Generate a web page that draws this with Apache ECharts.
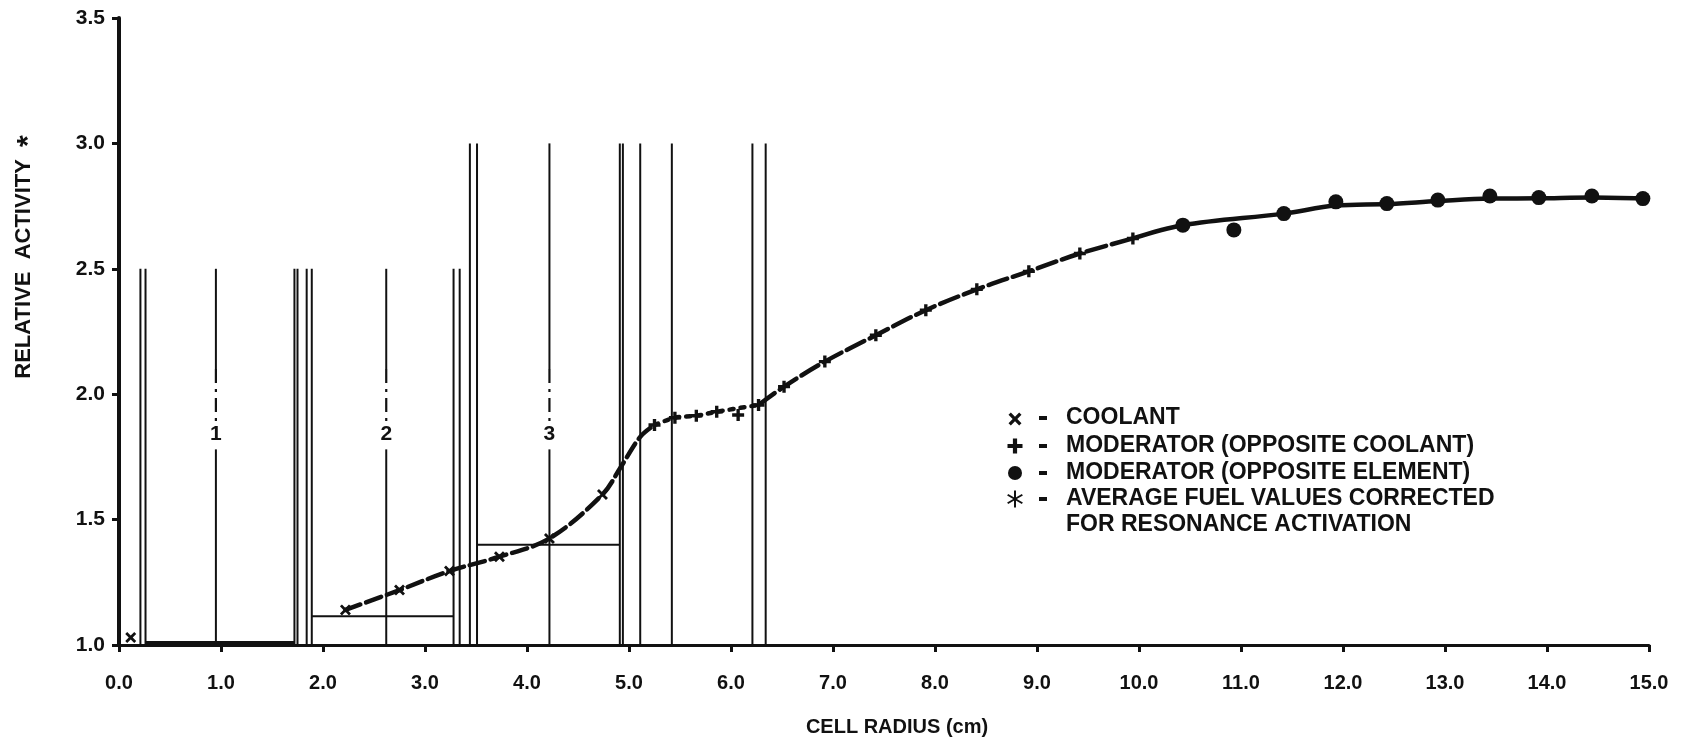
<!DOCTYPE html>
<html><head><meta charset="utf-8">
<script src="https://cdn.jsdelivr.net/npm/echarts@6/dist/echarts.min.js"></script>
<style>html,body{margin:0;padding:0;background:#fff}#c{width:1684px;height:744px}</style>
</head><body><div id="c"></div>
<script>
// ---- tick labels ----
const xTickLabels = ['0.0','1.0','2.0','3.0','4.0','5.0','6.0','7.0','8.0','9.0','10.0','11.0','12.0','13.0','14.0','15.0'];
const yTickLabels = ['1.0','1.5','2.0','2.5','3.0','3.5'];

// ---- measured points ----
const coolantX = [0.115, 2.22, 2.75, 3.24, 3.73, 4.22, 4.74];
const coolantY = [1.03, 1.14, 1.219, 1.295, 1.352, 1.425, 1.60];
const modCoolX = [5.25, 5.45, 5.66, 5.86, 6.07, 6.27, 6.52, 6.92, 7.42, 7.91, 8.41, 8.92, 9.42, 9.94];
const modCoolY = [1.877, 1.906, 1.914, 1.93, 1.917, 1.957, 2.03, 2.13, 2.235, 2.335, 2.418, 2.49, 2.561, 2.621];
const modElemX = [10.43, 10.93, 11.42, 11.93, 12.43, 12.93, 13.44, 13.92, 14.44, 14.94];
const modElemY = [2.674, 2.655, 2.72, 2.767, 2.76, 2.774, 2.79, 2.784, 2.79, 2.78];

// ---- drawn fitted curve ----
const curveX = [2.22, 2.75, 3.24, 3.73, 4.22, 4.74, 4.92, 5.11, 5.25, 5.45, 5.66, 5.86, 6.27, 6.52, 6.92, 7.42, 7.91, 8.41, 8.92, 9.42, 9.94, 10.43, 11.42, 11.93, 12.43, 12.93, 13.44, 13.92, 14.44, 14.94];
const curveY = [1.14, 1.219, 1.295, 1.352, 1.425, 1.60, 1.71, 1.83, 1.877, 1.906, 1.914, 1.93, 1.957, 2.03, 2.13, 2.235, 2.335, 2.418, 2.49, 2.561, 2.621, 2.674, 2.72, 2.752, 2.758, 2.77, 2.78, 2.781, 2.784, 2.78];

// ---- fuel element geometry lines ----
const claddingX = [0.21, 0.26, 1.72, 1.75, 1.84, 1.89, 3.28, 3.34, 3.44, 3.51, 4.91, 4.94, 5.11, 5.42, 6.21, 6.34];
const claddingTop = [2.5, 2.5, 2.5, 2.5, 2.5, 2.5, 2.5, 2.5, 3.0, 3.0, 3.0, 3.0, 3.0, 3.0, 3.0, 3.0];
const centerX = [0.95, 2.62, 4.22];
const centerTop = [2.5, 2.5, 3.0];
const ringNames = ['1', '2', '3'];
const ringLabelY = [1.84, 1.84, 1.84];
const avgStart = [0.26, 1.89, 3.51];
const avgEnd = [1.72, 3.28, 4.91];
const avgValue = [1.01, 1.115, 1.40];

const legendItems = ['COOLANT', 'MODERATOR (OPPOSITE COOLANT)', 'MODERATOR (OPPOSITE ELEMENT)', 'AVERAGE FUEL VALUES CORRECTED', 'FOR RESONANCE ACTIVATION'];

const INK = '#111';
const FONT = '"Liberation Sans", Arial, sans-serif';
const xPoly = [[1.8,0],[5,3.2],[8.2,0],[10,1.8],[6.8,5],[10,8.2],[8.2,10],[5,6.8],[1.8,10],[0,8.2],[3.2,5],[0,1.8]];
const plusPoly = [[3.6,0],[6.4,0],[6.4,3.6],[10,3.6],[10,6.4],[6.4,6.4],[6.4,10],[3.6,10],[3.6,6.4],[0,6.4],[0,3.6],[3.6,3.6]];
const toPath = poly => 'path://M' + poly.map(p => p[0] + ',' + p[1]).join(' L') + ' Z';
const xPath = toPath(xPoly);
const plusPath = toPath(plusPoly);

const series = [];
// cladding walls
claddingX.forEach((x, i) => {
  series.push({type: 'line', silent: true, symbol: 'none', z: 2, animation: false,
    data: [[x, 1.0], [x, claddingTop[i]]], lineStyle: {color: INK, width: 2}});
});
// centerlines (solid / dash-dot / gap for label / solid)
centerX.forEach((x, i) => {
  const segs = [[centerTop[i], 2.1, 'solid', 2], [2.1, 1.88, [14, 6, 3, 6], 2.2], [1.78, 1.0, 'solid', 2]];
  segs.forEach(s => series.push({type: 'line', silent: true, symbol: 'none', z: 2, animation: false,
    data: [[x, s[0]], [x, s[1]]], lineStyle: {color: INK, width: s[3], type: s[2]}}));
});
// average fuel values
avgValue.forEach((v, i) => {
  series.push({type: 'line', silent: true, symbol: 'none', z: 2, animation: false,
    data: [[avgStart[i], v], [avgEnd[i], v]], lineStyle: {color: INK, width: i === 0 ? 3 : 2}});
});
// ring labels
series.push({type: 'scatter', silent: true, symbolSize: 1, z: 3, animation: false,
  itemStyle: {opacity: 0},
  data: centerX.map((x, i) => ({value: [x, ringLabelY[i]], name: ringNames[i]})),
  label: {show: true, position: 'inside', formatter: p => p.name, color: INK, opacity: 1,
    fontFamily: FONT, fontWeight: 'bold', fontSize: 21}});
// fitted curve segments
const pts = curveX.map((x, i) => [x, curveY[i]]);
const segDefs = [[0, 8, [16, 6]], [8, 12, [4, 7]], [12, 20, [20, 6]], [20, pts.length - 1, 'solid']];
segDefs.forEach(d => series.push({type: 'line', silent: true, symbol: 'none', smooth: 0.35, z: 4, animation: false,
  data: pts.slice(d[0], d[1] + 1), lineStyle: {color: INK, width: 4.5, type: d[2], cap: 'round'}}));
// markers
series.push({type: 'scatter', z: 6, animation: false, symbol: xPath, symbolSize: 11,
  itemStyle: {color: INK, opacity: 1}, data: coolantX.map((x, i) => [x, coolantY[i]])});
series.push({type: 'scatter', z: 6, animation: false, symbol: plusPath, symbolSize: 12,
  itemStyle: {color: INK, opacity: 1}, data: modCoolX.map((x, i) => [x, modCoolY[i]])});
series.push({type: 'scatter', z: 6, animation: false, symbol: 'circle', symbolSize: 15,
  itemStyle: {color: INK, opacity: 1}, data: modElemX.map((x, i) => [x, modElemY[i]])});

const graphic = [
  {type: 'text', x: 24, y: 257, rotation: Math.PI / 2,
    style: {text: 'RELATIVE  ACTIVITY  {s|*}', font: 'bold 22px ' + FONT, fill: INK, align: 'center', verticalAlign: 'middle',
      rich: {s: {font: 'bold 30px ' + FONT, fill: INK, padding: [10, 0, 0, 0]}}}},
  {type: 'text', x: 897, y: 727,
    style: {text: 'CELL RADIUS (cm)', font: 'bold 20px ' + FONT, fill: INK, align: 'center', verticalAlign: 'middle'}}
];
const rowY = [418, 446, 473, 499, 525];
const SX = 1015;
const polyAt = (poly, cx, cy, sz) => poly.map(p => [cx - sz / 2 + p[0] * sz / 10, cy - sz / 2 + p[1] * sz / 10]);
graphic.push({type: 'polygon', shape: {points: polyAt(xPoly, SX, rowY[0] + 1, 13)}, style: {fill: INK}});
graphic.push({type: 'polygon', shape: {points: polyAt(plusPoly, SX, rowY[1], 15)}, style: {fill: INK}});
graphic.push({type: 'circle', shape: {cx: SX, cy: rowY[2], r: 7}, style: {fill: INK}});
[90, 30, -30].forEach(a => {
  const r = 8.5, t = a * Math.PI / 180;
  graphic.push({type: 'line', shape: {x1: SX - r * Math.cos(t), y1: rowY[3] - r * Math.sin(t), x2: SX + r * Math.cos(t), y2: rowY[3] + r * Math.sin(t)},
    style: {stroke: INK, lineWidth: 2}});
});
legendItems.forEach((t, i) => {
  if (i < 4) graphic.push({type: 'rect', shape: {x: 1039, y: rowY[i] - 2, width: 8, height: 4}, style: {fill: INK}});
  graphic.push({type: 'text', x: 1066, y: rowY[i], style: {text: t, font: 'bold 23px ' + FONT, fill: INK, align: 'left', verticalAlign: 'middle'}});
});

const chart = echarts.init(document.getElementById('c'));
chart.setOption({
  backgroundColor: '#fff',
  animation: false,
  grid: {left: 119, right: 35, top: 18, bottom: 99},
  xAxis: {type: 'value', min: 0, max: 15, interval: 1,
    axisLine: {onZero: false, lineStyle: {color: INK, width: 3}},
    axisTick: {show: true, inside: false, length: 7, lineStyle: {color: INK, width: 3}},
    splitLine: {show: false},
    axisLabel: {margin: 28, color: INK, fontFamily: FONT, fontWeight: 'bold', fontSize: 20,
      formatter: v => xTickLabels[Math.round(v)]}},
  yAxis: {type: 'value', min: 1.0, max: 3.5, interval: 0.5,
    axisLine: {show: true, onZero: false, lineStyle: {color: INK, width: 4}},
    axisTick: {show: true, inside: false, length: 7, lineStyle: {color: INK, width: 3}},
    splitLine: {show: false},
    axisLabel: {margin: 14, color: INK, fontFamily: FONT, fontWeight: 'bold', fontSize: 21,
      formatter: v => yTickLabels[Math.round((v - 1) / 0.5)]}},
  series: series,
  graphic: graphic
});
</script></body></html>
